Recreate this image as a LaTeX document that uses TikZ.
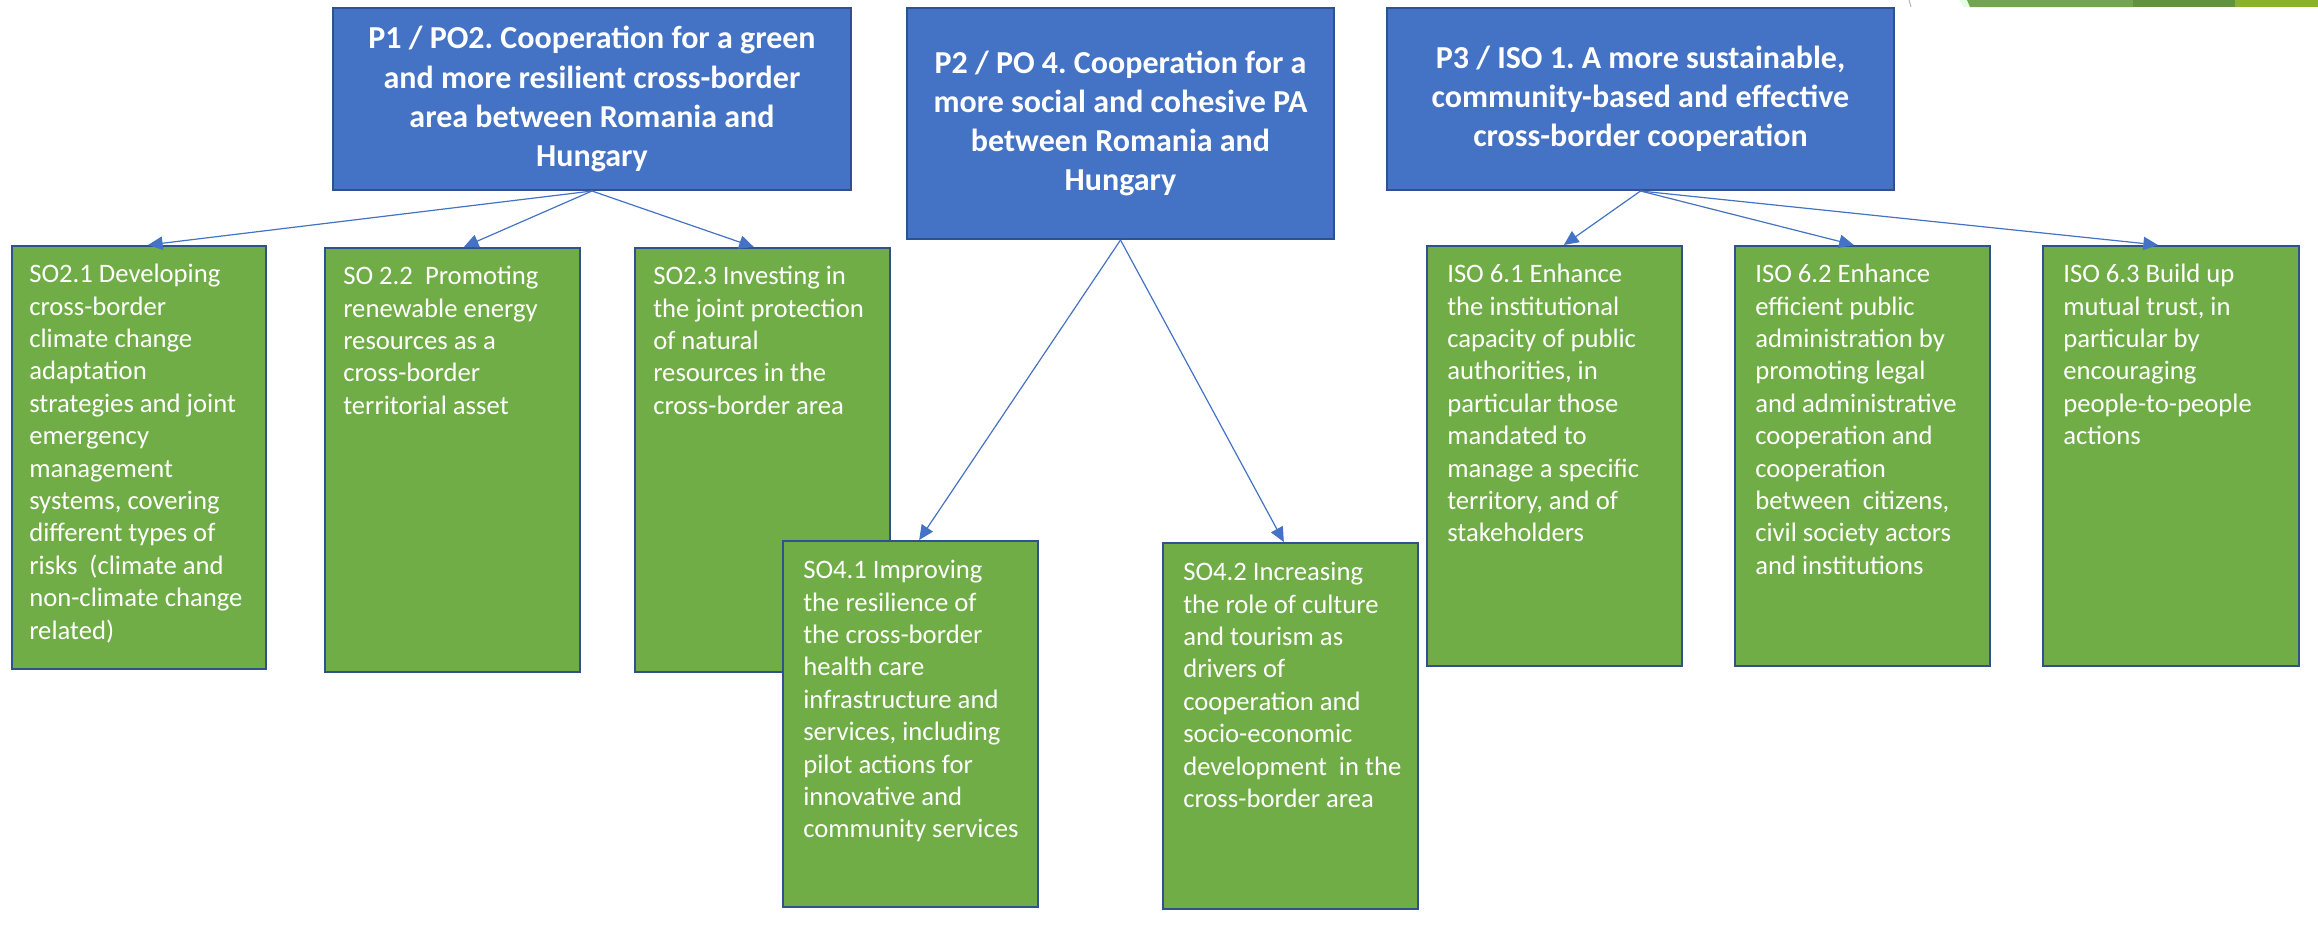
\documentclass[tikz,border=0pt]{standalone}
\usepackage{fontspec}
\setmainfont{Carlito}
\frenchspacing
\usetikzlibrary{arrows.meta,calc}
\definecolor{pblue}{RGB}{68,114,196}
\definecolor{pedge}{RGB}{47,82,143}
\definecolor{sgreen}{RGB}{112,173,71}

\begin{document}
\begin{tikzpicture}[x=0.75pt,y=-0.75pt,
  pbox/.style={draw=pedge,line width=1.5pt,fill=pblue,text=white,font=\fontsize{24}{29.3}\selectfont\bfseries,align=center,anchor=north west,inner sep=0pt},
  sbox/.style={draw=pedge,line width=1.5pt,fill=sgreen,anchor=north west,inner sep=0pt},
  stext/.style={text=white,font=\fontsize{20}{24.3}\selectfont,align=left,anchor=north west,inner sep=0pt,execute at begin node=\strut},
  link/.style={draw=pblue,line width=0.9pt,-{Triangle[length=11pt,width=10pt]}}]
\useasboundingbox (0,0) rectangle (2318,926);

%Shape: slide edge, top right
\fill[green!10!white] (1959,0) -- (2318,0) -- (2318,7) -- (1964,7) -- cycle;
\fill[sgreen!80!gray] (1967,0) -- (2133,0) -- (2133,7) -- (1970,7) -- cycle;
\fill[sgreen!85!black] (2133,0) -- (2235,0) -- (2235,7) -- (2133,7) -- cycle;
\fill[sgreen!70!yellow!90!black] (2235,0) -- (2318,0) -- (2318,7) -- (2235,7) -- cycle;
\draw[gray!70,line width=0.6pt] (1909,0) -- (1911,7);

%Shape: priority boxes
\node[pbox,minimum width=388.5pt,minimum height=136.5pt] (p1) at (332,7) {P1 / PO2. Cooperation for a green\\and more resilient cross-border\\area between Romania and\\Hungary};
\node[pbox,minimum width=320.25pt,minimum height=173.25pt] (p2) at (906,7) {P2 / PO 4. Cooperation for a\\more social and cohesive PA\\between Romania and\\Hungary};
\node[pbox,minimum width=380.25pt,minimum height=136.5pt] (p3) at (1386,7) {P3 / ISO 1. A more sustainable,\\community-based and effective\\cross-border cooperation};

%Shape: objective boxes, P1
\node[sbox,minimum width=190.5pt,minimum height=317.25pt] (so21) at (11,245) {};
\node[stext] (so21t) at ($(so21.north west)+(18,19)$) {SO2.1 Developing\\cross-border\\climate change\\adaptation\\strategies and joint\\emergency\\management\\systems, covering\\different types of\\risks\ \ (climate and\\non-climate change\\related)};
\node[sbox,minimum width=191.25pt,minimum height=318pt] (so22) at (324,247) {};
\node[stext] (so22t) at ($(so22.north west)+(19,19)$) {SO 2.2\ \ Promoting\\renewable energy\\resources as a\\cross-border\\territorial asset};
\node[sbox,minimum width=191.25pt,minimum height=318pt] (so23) at (634,247) {};
\node[stext] (so23t) at ($(so23.north west)+(19,19)$) {SO2.3 Investing in\\the joint protection\\of natural\\resources in the\\cross-border area};

%Shape: objective boxes, P2
\node[sbox,minimum width=191.25pt,minimum height=274.5pt] (so41) at (782,540) {};
\node[stext] (so41t) at ($(so41.north west)+(21,20)$) {SO4.1 Improving\\the resilience of\\the cross-border\\health care\\infrastructure and\\services, including\\pilot actions for\\innovative and\\community services};
\node[sbox,minimum width=191.25pt,minimum height=274.5pt] (so42) at (1162,542) {};
\node[stext] (so42t) at ($(so42.north west)+(21,20)$) {SO4.2 Increasing\\the role of culture\\and tourism as\\drivers of\\cooperation and\\socio-economic\\development\ \ in the\\cross-border area};

%Shape: objective boxes, P3
\node[sbox,minimum width=191.25pt,minimum height=315pt] (iso61) at (1426,245) {};
\node[stext] (iso61t) at ($(iso61.north west)+(21,19)$) {ISO 6.1 Enhance\\the institutional\\capacity of public\\authorities, in\\particular those\\mandated to\\manage a specific\\territory, and of\\stakeholders};
\node[sbox,minimum width=191.25pt,minimum height=315pt] (iso62) at (1734,245) {};
\node[stext] (iso62t) at ($(iso62.north west)+(21,19)$) {ISO 6.2 Enhance\\efficient public\\administration by\\promoting legal\\and administrative\\cooperation and\\cooperation\\between\ \ citizens,\\civil society actors\\and institutions};
\node[sbox,minimum width=192pt,minimum height=315pt] (iso63) at (2042,245) {};
\node[stext] (iso63t) at ($(iso63.north west)+(21,19)$) {ISO 6.3 Build up\\mutual trust, in\\particular by\\encouraging\\people-to-people\\actions};

%Straight Lines
\draw[link] (p1.south) -- ([xshift=6.75pt]so21.north);
\draw[link] (p1.south) -- ([xshift=8.5pt]so22.north);
\draw[link] (p1.south) -- ([xshift=-6.5pt]so23.north);
\draw[link] (p2.south) -- ([xshift=6.5pt]so41.north);
\draw[link] (p2.south) -- ([xshift=-5pt]so42.north);
\draw[link] (p3.south) -- ([xshift=7pt]iso61.north);
\draw[link] (p3.south) -- ([xshift=-6.5pt]iso62.north);
\draw[link] (p3.south) -- ([xshift=-9.75pt]iso63.north);

\end{tikzpicture}
\end{document}
